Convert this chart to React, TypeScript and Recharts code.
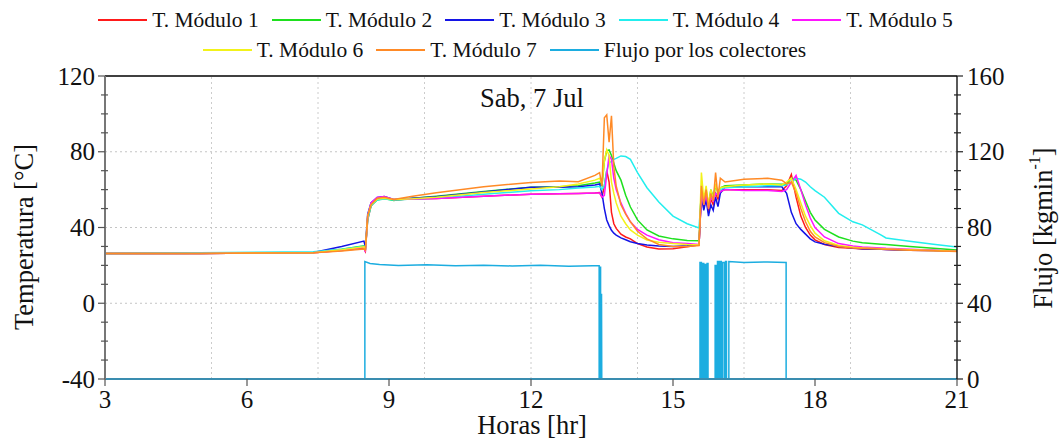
import { ComposedChart, Line, XAxis, YAxis, ReferenceLine, Legend } from "recharts";

const SERIF = '"Liberation Serif", "Times New Roman", serif';

// shared time base for the module temperatures (hours)
const hours = [
  3, 5, 7.4, 8.0, 8.47, 8.5, 8.55, 8.62, 8.75, 8.9, 9.1, 9.5, 10, 11, 12, 12.6, 13.0, 13.35, 13.45, 13.5,
  13.55, 13.6, 13.65, 13.7, 13.75, 13.8, 13.9, 14.0, 14.1, 14.25, 14.45, 14.7, 15.0, 15.3, 15.55, 15.6,
  15.65, 15.7, 15.75, 15.8, 15.85, 15.9, 15.95, 16.0, 16.1, 16.5, 17.0, 17.3, 17.4, 17.5, 17.6, 17.7,
  17.8, 17.9, 18.0, 18.2, 18.5, 18.8, 19.0, 19.4, 19.5, 20.0, 20.5, 21.0,
];

const modulo1 = [
  26.3, 26.3, 26.7, 27.8, 29.0,
  27.5, 44, 51.5, 55, 55.8, 54.6,
  55, 55.3, 56.5, 57.6, 57.8, 58, 58.2, 58.5,
  56, 62, 70, 64, 48, 42, 39.5, 36.5, 35, 34, 31.5, 29.7, 28.7, 28.8, 29.8, 30.8,
  57, 50, 56, 48, 55, 52, 58, 55, 59, 60,
  60, 60, 59.5, 62, 68, 56, 46, 40, 36, 33.5, 31, 29.5, 29, 28.7, 28.5, 28.4, 28, 27.8, 27.5,
];

const modulo2 = [
  26.3, 26.4, 26.8, 28.5, 30.3,
  28, 45, 51.5, 54.5, 55.3, 54.2,
  55.5, 56.5, 59, 61.3, 61.5, 62, 63.5, 64,
  62, 75, 80.5, 81, 78, 74, 70, 65, 57, 50.8, 44, 38.7, 35.5, 34, 33.2, 33,
  60, 54, 58, 52, 60, 56, 62, 59, 61, 62,
  62.5, 63, 62.8, 63, 66, 65, 60, 54, 48, 44, 39, 35, 32.8, 32, 31.2, 31, 30, 29, 28.1,
];

const modulo3 = [
  26.3, 26.3, 26.8, 30, 32.8,
  30, 47, 53, 55.8, 56.3, 54.8,
  55.5, 56.3, 58.8, 61.3, 61.3, 61.5, 62.5, 63,
  58, 50, 44, 41, 38.5, 37, 36, 34.5, 33.5, 32.5, 31.5, 30.8, 30.2, 30, 30.3, 30.8,
  58, 49, 55, 46, 52, 49, 56, 51, 58, 61.5,
  61.5, 61.5, 61.5, 58, 48, 42, 39, 36.5, 34, 32.4, 31.2, 30, 29.2, 28.8, 28.5, 28.4, 28, 27.8, 27.5,
];

const modulo4 = [
  26.3, 26.7, 27.2, 28.5, 30,
  28, 44, 51.5, 54.5, 55, 54.5,
  55, 55.5, 57.5, 59.4, 60, 60.8, 61.4, 61.8,
  60, 62, 70, 74, 75, 76, 76.5, 77.8, 77.5, 76, 69, 61, 53.5, 46, 42, 39.8,
  58, 55, 57, 53, 57, 56, 58, 58, 60, 61,
  61.5, 62, 62, 62.5, 64, 66, 65.5, 64, 61.5, 59.5, 56, 47.5, 43, 41.4, 36, 34.5, 32.8, 31.2, 29.7,
];

const modulo5 = [
  26.3, 26.3, 26.7, 28, 29.6,
  27, 46, 53, 55.8, 56.3, 54.8,
  55, 55.3, 56.5, 57.6, 57.8, 58, 58.2, 58.2,
  56, 57, 68, 78, 76, 66, 60, 53, 47.5, 43, 39, 36, 33.5, 32, 31.5, 31,
  58, 52, 57, 50, 56, 54, 58, 57, 59, 60,
  59.5, 59.5, 59, 60, 64, 67.5, 60, 52, 45, 40, 35, 31.5, 30.2, 29.7, 29.2, 29, 28.5, 28, 27.5,
];

const modulo6 = [
  26.3, 26.3, 26.7, 28.2, 29.8,
  28.5, 46, 52, 55, 55.5, 54.8,
  55.2, 56, 58.5, 60.3, 61.5, 63, 65, 66,
  63, 75, 81, 78, 64, 58, 53, 46, 42, 38.7, 36, 33.4, 32.2, 31.5, 31, 30.8,
  69, 55, 62, 52, 60, 55, 63, 58, 61, 61.5,
  62.5, 63, 62.5, 64, 66, 60, 53, 46, 41, 37, 33, 30.5, 29.6, 29.2, 28.8, 28.7, 28.2, 27.9, 27.5,
];

const modulo7 = [
  26.3, 26.3, 26.7, 27.6, 28.7,
  28, 46, 52, 55.5, 56, 54.8,
  56.5, 58.3, 61.5, 63.8, 64.5, 64.2, 67.5, 69,
  62, 98, 99.5, 85, 99, 72, 62, 52, 47, 43, 38, 34, 31, 30, 30, 30.5,
  62, 52, 60, 50, 58, 54, 69, 56, 66, 64,
  65.5, 66, 65, 63, 64, 58, 50, 43, 38, 35, 32, 30, 29.2, 29, 28.6, 28.5, 28, 27.7, 27.3,
];

// collector flow (kg/min), repeated hours mark on/off switching
const flowHours = [
  3, 8.49, 8.49, 8.6, 8.8, 9.2, 9.8, 10.4, 11.0, 11.6, 12.2, 12.8, 13.3, 13.44, 13.44,
  13.46, 13.46, 13.47, 13.47, 13.49, 13.49, 13.495,
  15.57, 15.57, 15.6, 15.6, 15.62, 15.62, 15.65, 15.65, 15.68, 15.68, 15.7, 15.7, 15.72, 15.72, 15.74, 15.74,
  15.89, 15.89, 15.91, 15.91, 15.94, 15.94, 15.97, 15.97, 15.99, 15.99, 16.02, 16.02, 16.04, 16.04,
  16.08, 16.08, 16.11, 16.11, 16.13, 16.13, 16.18, 16.18, 16.5, 17.0, 17.39, 17.39, 21,
];
const flowValues = [
  0, 0, 62, 61, 60.5, 60, 60.3, 59.8, 60, 59.7, 60, 59.6, 59.8, 59.8, 0,
  0, 59, 59, 0, 0, 45, 0,
  0, 61.5, 61.5, 0, 0, 61, 61, 0, 0, 60.5, 60.5, 0, 0, 61, 61, 0,
  0, 60, 60, 0, 0, 62, 62, 0, 0, 62, 62, 0, 0, 61.5,
  61.5, 0, 0, 62, 62, 0, 0, 62, 61.5, 61.8, 61.5, 0, 0,
];

const xTicks = [3, 6, 9, 12, 15, 18, 21];
const tempTicks = [-40, -30, -20, -10, 0, 10, 20, 30, 40, 50, 60, 70, 80, 90, 100, 110, 120];
const flowTicks = [0, 10, 20, 30, 40, 50, 60, 70, 80, 90, 100, 110, 120, 130, 140, 150, 160];
const gridHours = [5.25, 7.5, 9.75, 12, 14.25, 16.5, 18.75];
const gridTemps = [0, 40, 80];

const modules = [
  { key: "m1", name: "T. Módulo 1", color: "#ff1a1a", values: modulo1 },
  { key: "m2", name: "T. Módulo 2", color: "#1ee01e", values: modulo2 },
  { key: "m3", name: "T. Módulo 3", color: "#1414e6", values: modulo3 },
  { key: "m4", name: "T. Módulo 4", color: "#22eeee", values: modulo4 },
  { key: "m5", name: "T. Módulo 5", color: "#ff14ff", values: modulo5 },
  { key: "m6", name: "T. Módulo 6", color: "#f2f21a", values: modulo6 },
  { key: "m7", name: "T. Módulo 7", color: "#ff8a26", values: modulo7 },
];
const FLOW_COLOR = "#1cade0";

const rows = hours.map((t, i) => {
  const r: Record<string, number> = { t };
  modules.forEach((m) => (r[m.key] = m.values[i]));
  return r;
});
const flowRows = flowHours.map((t, i) => ({ t, flow: flowValues[i] }));

const legendItems = [
  ...modules.map((m) => ({ name: m.name, color: m.color })),
  { name: "Flujo por los colectores", color: FLOW_COLOR },
];

function LegendItem({ name, color }: { name: string; color: string }) {
  return (
    <span style={{ display: "inline-flex", alignItems: "center", marginRight: 13 }}>
      <span style={{ width: 49, height: 2, background: color, marginRight: 5 }} />
      <span>{name}</span>
    </span>
  );
}

const renderLegend = () => (
  <div style={{ fontFamily: SERIF, fontSize: 21.5, lineHeight: "30px", color: "#111" }}>
    <div style={{ display: "flex", justifyContent: "center", paddingLeft: 2 }}>
      {legendItems.slice(0, 5).map((it) => (
        <LegendItem key={it.name} {...it} />
      ))}
    </div>
    <div style={{ display: "flex", justifyContent: "center", paddingRight: 40 }}>
      {legendItems.slice(5).map((it) => (
        <LegendItem key={it.name} {...it} />
      ))}
    </div>
  </div>
);

function TempTick({ x, y, payload }: any) {
  const major = payload.value % 40 === 0;
  return (
    <g>
      <line x1={x - (major ? 7 : 4)} x2={x + (major ? 0 : 3)} y1={y} y2={y} stroke="#555" strokeWidth={1.2} />
      {major && (
        <text x={x - 10} y={y} textAnchor="end" dominantBaseline="central" fontFamily={SERIF} fontSize={25} fill="#111">
          {payload.value}
        </text>
      )}
    </g>
  );
}

function FlowTick({ x, y, payload }: any) {
  const major = payload.value % 40 === 0;
  return (
    <g>
      <line x1={x - (major ? 0 : 3)} x2={x + (major ? 6 : 4)} y1={y} y2={y} stroke="#222" strokeWidth={1.2} />
      {major && (
        <text x={x + 10} y={y} textAnchor="start" dominantBaseline="central" fontFamily={SERIF} fontSize={25} fill="#111">
          {payload.value}
        </text>
      )}
    </g>
  );
}

function HourTick({ x, y, payload }: any) {
  return (
    <g>
      <line x1={x} x2={x} y1={y} y2={y + 7} stroke="#555" strokeWidth={1.2} />
      <text x={x} y={y + 20} textAnchor="middle" dominantBaseline="central" fontFamily={SERIF} fontSize={25} fill="#111">
        {payload.value}
      </text>
    </g>
  );
}

export default function App() {
  return (
    <div style={{ width: 1062, height: 441, background: "#fff" }}>
      <style>{"body{margin:0;background:#fff}"}</style>
      <ComposedChart width={1062} height={441} data={rows} margin={{ top: 76, right: 0, bottom: 0, left: 0 }}>
        {gridHours.map((h) => (
          <ReferenceLine key={"gx" + h} x={h} yAxisId="temp" stroke="#cccccc" strokeDasharray="2 3" />
        ))}
        {gridTemps.map((v) => (
          <ReferenceLine key={"gy" + v} y={v} yAxisId="temp" stroke="#c4c4c4" strokeDasharray="2 3" />
        ))}
        <ReferenceLine y={120} yAxisId="temp" stroke="#000" strokeWidth={1.3} />
        <XAxis
          dataKey="t"
          type="number"
          domain={[3, 21]}
          ticks={xTicks}
          interval={0}
          height={62}
          tickSize={0}
          tickMargin={0}
          tickLine={false}
          tick={<HourTick />}
          axisLine={{ stroke: "#3a8db0", strokeWidth: 1.8 }}
          allowDataOverflow
        />
        <YAxis
          yAxisId="temp"
          orientation="left"
          width={105}
          domain={[-40, 120]}
          ticks={tempTicks}
          interval={0}
          tickSize={0}
          tickMargin={0}
          tickLine={false}
          tick={<TempTick />}
          axisLine={{ stroke: "#777", strokeWidth: 2 }}
          allowDataOverflow
        />
        <YAxis
          yAxisId="flow"
          orientation="right"
          width={105}
          domain={[0, 160]}
          ticks={flowTicks}
          interval={0}
          tickSize={0}
          tickMargin={0}
          tickLine={false}
          tick={<FlowTick />}
          axisLine={{ stroke: "#000", strokeWidth: 1.3 }}
          allowDataOverflow
        />
        <Legend
          layout="horizontal"
          verticalAlign="middle"
          align="center"
          content={renderLegend}
          wrapperStyle={{ top: 5, left: 0, width: 1062 }}
        />
        {modules.map((m) => (
          <Line
            key={m.key}
            yAxisId="temp"
            dataKey={m.key}
            name={m.name}
            type="linear"
            stroke={m.color}
            strokeWidth={1.5}
            dot={false}
            isAnimationActive={false}
          />
        ))}
        <Line
          yAxisId="flow"
          data={flowRows}
          dataKey="flow"
          name="Flujo por los colectores"
          type="linear"
          stroke={FLOW_COLOR}
          strokeWidth={1.5}
          dot={false}
          isAnimationActive={false}
        />
        <text x={532} y={98} textAnchor="middle" dominantBaseline="central" fontFamily={SERIF} fontSize={26.5} fill="#111">
          Sab, 7 Jul
        </text>
        <text x={532} y={425} textAnchor="middle" dominantBaseline="central" fontFamily={SERIF} fontSize={26.5} fill="#111">
          Horas [hr]
        </text>
        <text
          x={24}
          y={237}
          transform="rotate(-90, 24, 237)"
          textAnchor="middle"
          dominantBaseline="central"
          fontFamily={SERIF}
          fontSize={26.5}
          fill="#111"
        >
          Temperatura [°C]
        </text>
        <text
          x={1043}
          y={228}
          transform="rotate(-90, 1043, 228)"
          textAnchor="middle"
          dominantBaseline="central"
          fontFamily={SERIF}
          fontSize={26.5}
          fill="#111"
        >
          Flujo [kgmin
          <tspan dy={-9} fontSize={16}>
            -1
          </tspan>
          <tspan dy={9}>]</tspan>
        </text>
      </ComposedChart>
    </div>
  );
}
